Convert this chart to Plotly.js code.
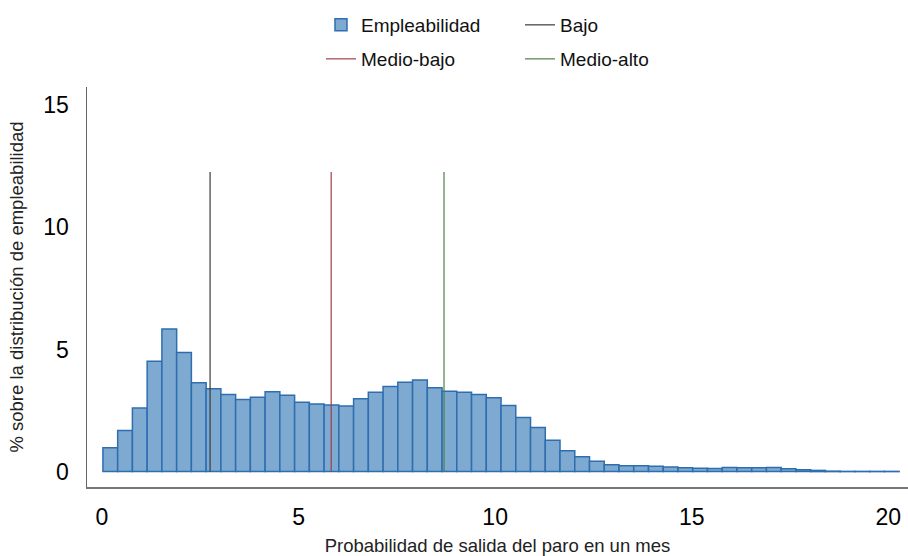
<!DOCTYPE html>
<html>
<head>
<meta charset="utf-8">
<script src="https://cdn.plot.ly/plotly-3.0.1.min.js"></script>
<style>html,body{margin:0;padding:0;background:#fff;}#chart{width:908px;height:556px;}</style>
</head>
<body>
<div id="chart"></div>
<script>
// Histogram of employability (percent per bin)
const binStart = 0.025;
const binWidth = 0.375;
const percentages = [0.98,1.68,2.6,4.52,5.84,4.88,3.64,3.39,3.16,2.95,
  3.05,3.27,3.13,2.84,2.77,2.73,2.69,2.98,3.25,3.49,
  3.66,3.75,3.43,3.29,3.25,3.16,3.02,2.71,2.22,1.81,
  1.28,0.85,0.61,0.42,0.28,0.24,0.24,0.22,0.19,0.16,
  0.14,0.13,0.17,0.16,0.16,0.17,0.12,0.08,0.05,0.02,
  0.01,0.01,0.01,0.01];
// Group cutoffs (vertical reference lines)
const cutoffNames = ["Bajo", "Medio-bajo", "Medio-alto"];
const cutoffValues = [2.75, 5.83, 8.70];
const cutoffHeight = 12.27;
const cutoffColors = ["#3a3a3a", "#9e3f48", "#4f7f47"];
const xTicks = [0, 5, 10, 15, 20];
const yTicks = [0, 5, 10, 15];

const binCenters = percentages.map((_, i) => binStart + (i + 0.5) * binWidth);

const traces = [{
  type: 'bar', name: 'Empleabilidad',
  x: binCenters, y: percentages, width: binWidth,
  marker: {color: 'rgb(126,170,210)', line: {color: 'rgb(46,110,175)', width: 1.5}},
  legend: 'legend', hoverinfo: 'x+y'
}];
cutoffValues.forEach((v, i) => {
  traces.push({
    type: 'scatter', mode: 'lines', name: cutoffNames[i],
    x: [v, v], y: [0, cutoffHeight],
    line: {color: cutoffColors[i], width: 1.2},
    legend: i === 0 ? 'legend' : 'legend2'
  });
});

const font = 'Liberation Sans, Arial, sans-serif';
const layout = {
  width: 908, height: 556,
  margin: {l: 87, r: 0, t: 87, b: 69},
  paper_bgcolor: '#fff', plot_bgcolor: '#fff',
  font: {family: font, color: '#111'},
  bargap: 0,
  xaxis: {
    range: [-0.38, 20.5], tickvals: xTicks, ticks: '', ticklabelstandoff: 8,
    showgrid: false, zeroline: false, showline: true, linecolor: '#777', linewidth: 2,
    tickfont: {size: 23, color: '#000'},
    title: {text: 'Probabilidad de salida del paro en un mes', font: {size: 18.5, color: '#222'}, standoff: 23}
  },
  yaxis: {
    range: [-0.63, 15.75], tickvals: yTicks, ticks: '', ticklabelstandoff: 12,
    showgrid: false, zeroline: false, showline: true, linecolor: '#666', linewidth: 1.5,
    tickfont: {size: 23, color: '#000'},
    title: {text: '% sobre la distribución de empleabilidad', font: {size: 18.5, color: '#222'}, standoff: 15}
  },
  legend: {
    orientation: 'h', x: 0.285, xanchor: 'left', y: 1.155, yanchor: 'middle',
    entrywidth: 154, entrywidthmode: 'pixels', traceorder: 'normal',
    font: {size: 19, color: '#111'}, bgcolor: 'rgba(0,0,0,0)'
  },
  legend2: {
    orientation: 'h', x: 0.285, xanchor: 'left', y: 1.07, yanchor: 'middle',
    entrywidth: 154, entrywidthmode: 'pixels', traceorder: 'normal',
    font: {size: 19, color: '#111'}, bgcolor: 'rgba(0,0,0,0)'
  },
  showlegend: true
};

Plotly.newPlot('chart', traces, layout, {displayModeBar: false, staticPlot: true});
</script>
</body>
</html>
